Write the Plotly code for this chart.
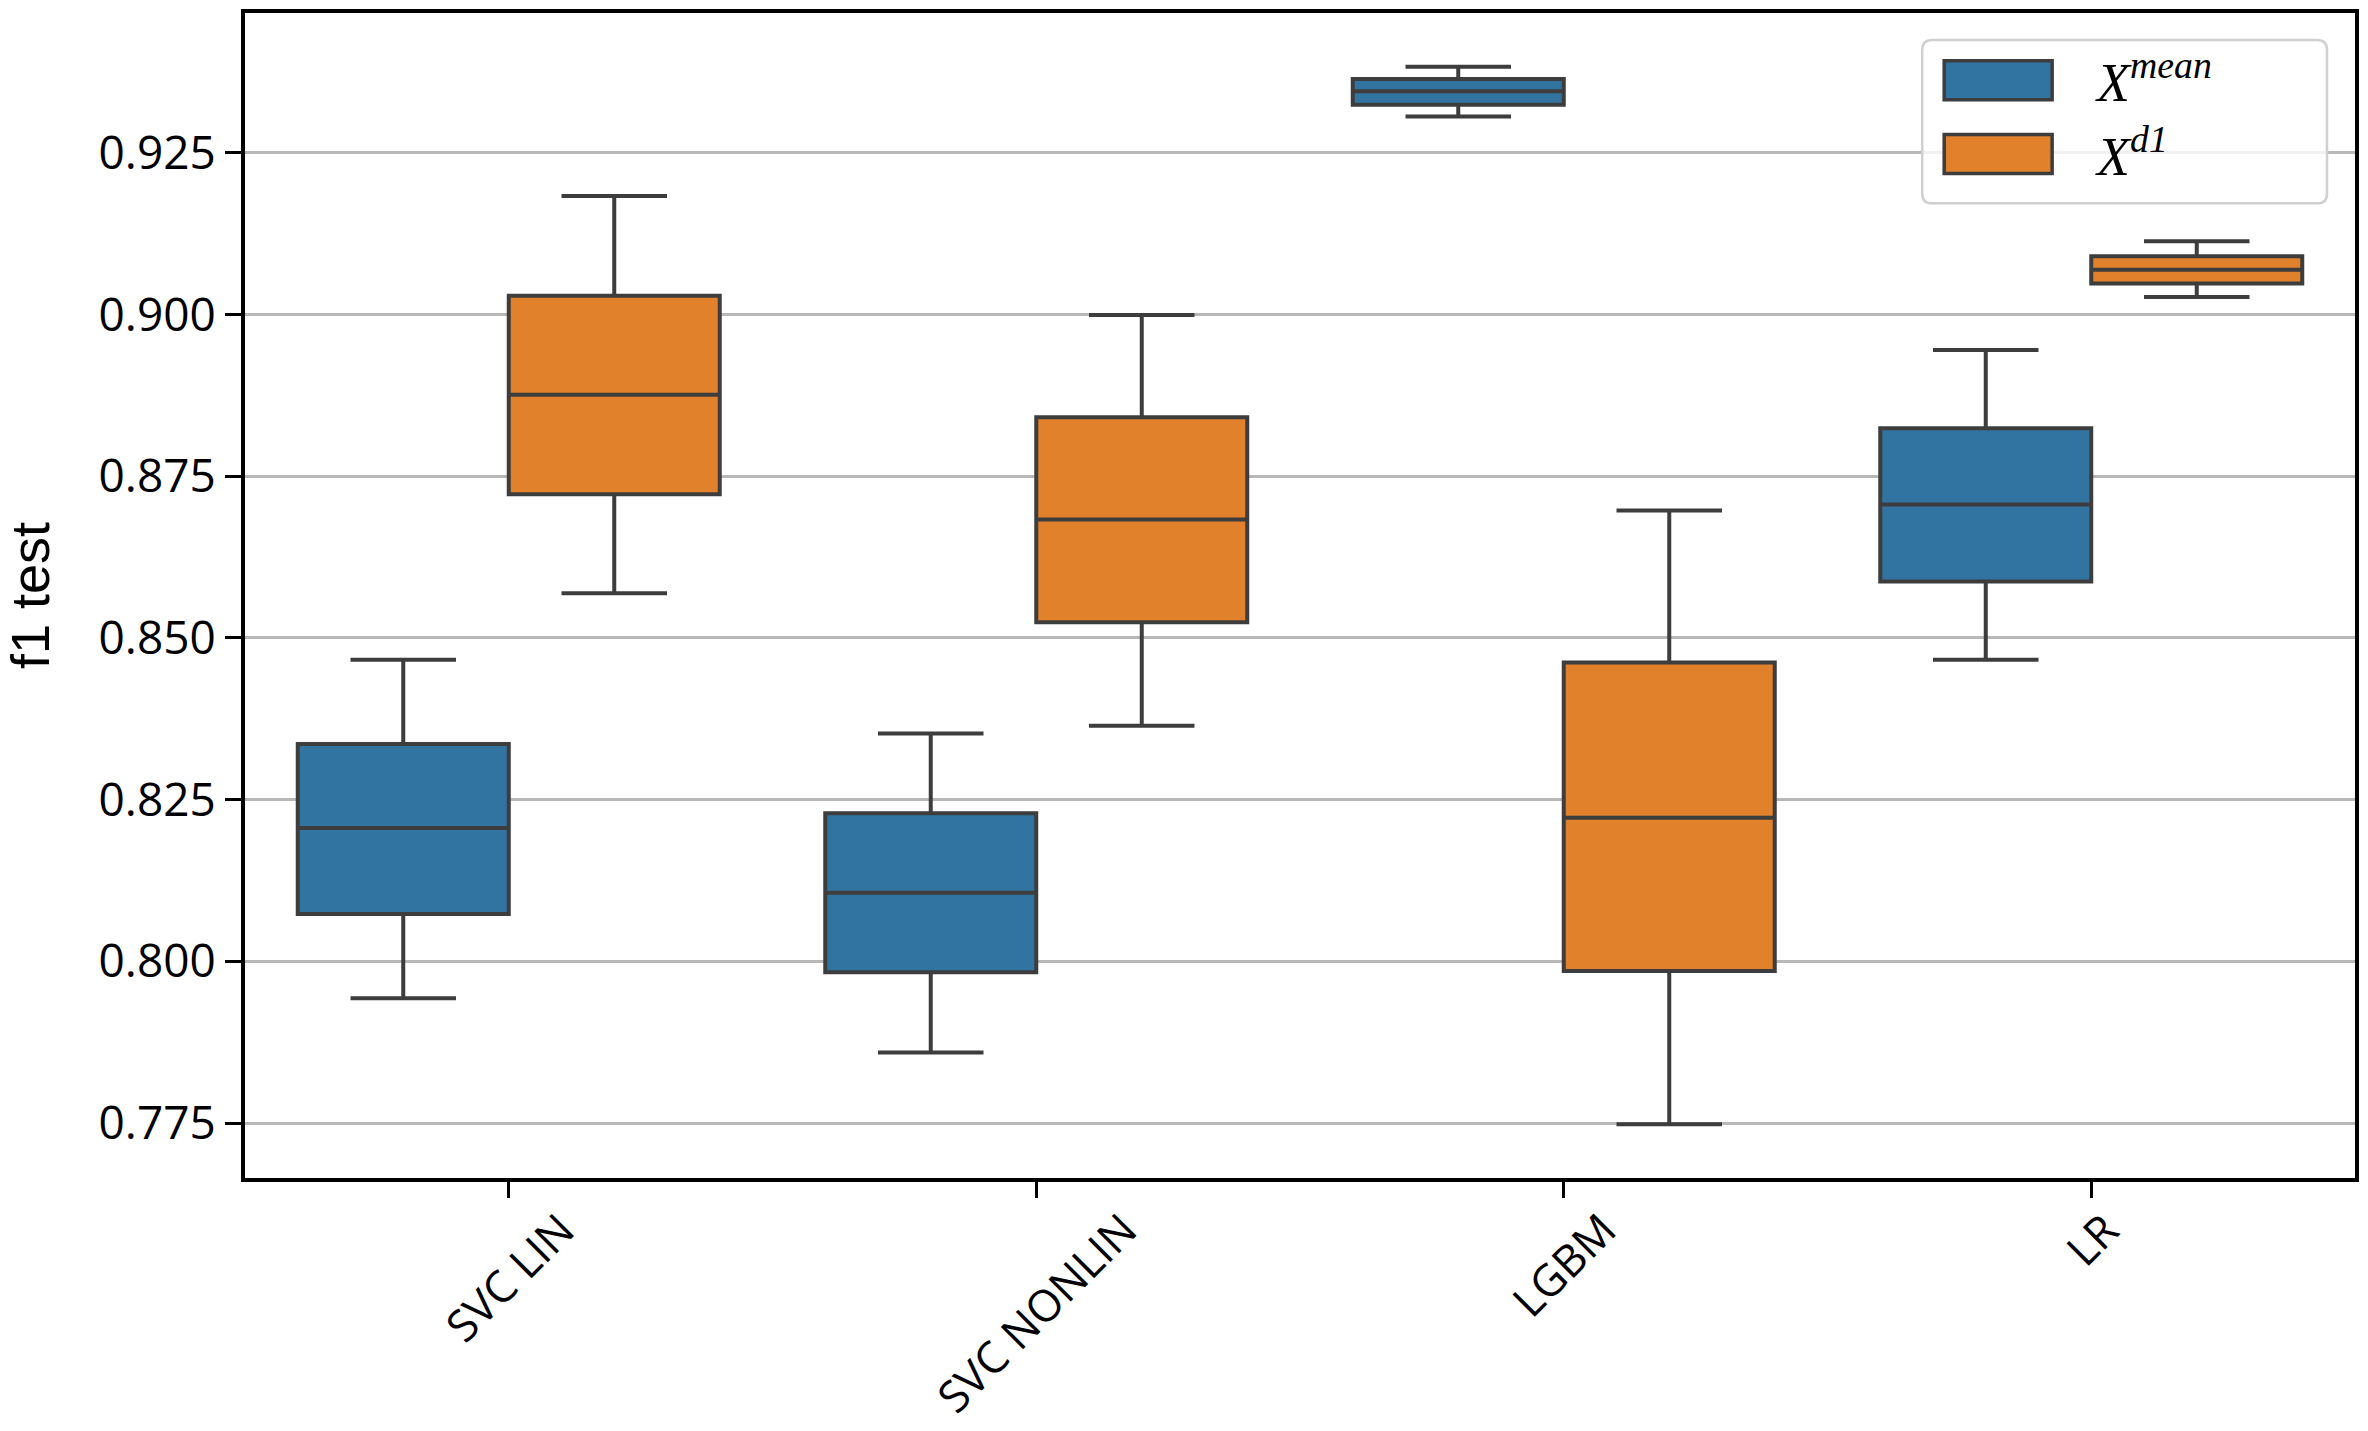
import plotly.graph_objects as go

categories = ["SVC LIN", "SVC NONLIN", "LGBM", "LR"]

# X^mean series (blue)
mean_lower = [0.7943, 0.7859, 0.9306, 0.8466]
mean_q1 = [0.8073, 0.7983, 0.9324, 0.8587]
mean_median = [0.8206, 0.8106, 0.9345, 0.8706]
mean_q3 = [0.8336, 0.8229, 0.9364, 0.8824]
mean_upper = [0.8466, 0.8352, 0.9383, 0.8945]

# X^d1 series (orange)
d1_lower = [0.8569, 0.8364, 0.7748, 0.9027]
d1_q1 = [0.8722, 0.8524, 0.7985, 0.9048]
d1_median = [0.8876, 0.8683, 0.8222, 0.9069]
d1_q3 = [0.9029, 0.8841, 0.8462, 0.9090]
d1_upper = [0.9183, 0.8999, 0.8697, 0.9113]

y_ticks = [0.775, 0.800, 0.825, 0.850, 0.875, 0.900, 0.925]
y_tick_labels = ["0.775", "0.800", "0.825", "0.850", "0.875", "0.900", "0.925"]
legend_labels = ["<i>X</i><sup><i>mean</i></sup>", "<i>X</i><sup><i>d1</i></sup>"]

BLUE = "#3274a1"
ORANGE = "#e1812c"
EDGE = "#3d3d3d"

W, H = 2368, 1431
L, R, T, B = 245, 12, 9, 253
PW = W - L - R
PH = H - T - B


def px_x(p):
    return (p - L) / PW


def px_y(p):
    return (H - B - p) / PH


fig = go.Figure()
fig.add_trace(go.Box(
    x=categories, q1=mean_q1, median=mean_median, q3=mean_q3,
    lowerfence=mean_lower, upperfence=mean_upper,
    name="X mean", fillcolor=BLUE, line=dict(color=EDGE, width=4),
    whiskerwidth=0.5, boxpoints=False, showlegend=False,
))
fig.add_trace(go.Box(
    x=categories, q1=d1_q1, median=d1_median, q3=d1_q3,
    lowerfence=d1_lower, upperfence=d1_upper,
    name="X d1", fillcolor=ORANGE, line=dict(color=EDGE, width=4),
    whiskerwidth=0.5, boxpoints=False, showlegend=False,
))

shapes = []
annotations = []

# x category labels (rotated, centred under ticks like matplotlib)
for c in categories:
    annotations.append(dict(
        x=c, xref="x", y=px_y(1197), yref="paper",
        text=c, textangle=-45, showarrow=False,
        xanchor="center", yanchor="top",
        font=dict(family="Open Sans", size=44, color="#000000"),
    ))

# legend frame (rounded)
x0, x1 = px_x(1923), px_x(2328)
y0, y1 = px_y(200), px_y(36)
rx, ry = 10 / PW, 10 / PH
path = (f"M {x0+rx},{y0} L {x1-rx},{y0} Q {x1},{y0} {x1},{y0+ry} "
        f"L {x1},{y1-ry} Q {x1},{y1} {x1-rx},{y1} L {x0+rx},{y1} "
        f"Q {x0},{y1} {x0},{y1-ry} L {x0},{y0+ry} Q {x0},{y0} {x0+rx},{y0} Z")
shapes.append(dict(type="path", path=path, xref="paper", yref="paper",
                   fillcolor="rgba(255,255,255,0.8)",
                   line=dict(color="#d0d0d0", width=2.5), layer="above"))

swatches = [(57, 96, BLUE), (131, 170, ORANGE)]
for (sy0, sy1, col), lab in zip(swatches, legend_labels):
    shapes.append(dict(type="rect", xref="paper", yref="paper",
                       x0=px_x(1945), x1=px_x(2053), y0=px_y(sy1), y1=px_y(sy0),
                       fillcolor=col, line=dict(color=EDGE, width=3.5),
                       layer="above"))
    annotations.append(dict(
        x=px_x(2094), xref="paper", y=px_y((sy0 + sy1) / 2 - 2), yref="paper",
        text=lab, showarrow=False, xanchor="left", yanchor="middle",
        font=dict(family="Liberation Serif", size=54, color="#000000"),
    ))

fig.update_layout(
    width=W, height=H,
    margin=dict(l=L, r=R, t=T, b=B, pad=0),
    paper_bgcolor="white", plot_bgcolor="white",
    boxmode="group", boxgap=0.2, boxgroupgap=0.0,
    shapes=shapes, annotations=annotations,
    font=dict(family="Open Sans", size=46, color="#000000"),
)
fig.update_xaxes(
    type="category", range=[-0.5, 3.5], showgrid=False, zeroline=False,
    showline=True, linecolor="#000000", linewidth=4, mirror=True,
    ticks="outside", ticklen=16, tickwidth=3, tickcolor="#000000",
    showticklabels=False,
)
fig.update_yaxes(
    range=[0.7665, 0.9466], tickvals=y_ticks, ticktext=y_tick_labels,
    showgrid=True, gridcolor="#b8b8b8", gridwidth=2.5, zeroline=False,
    showline=True, linecolor="#000000", linewidth=4, mirror=True,
    ticks="outside", ticklen=16, tickwidth=3, tickcolor="#000000",
    tickfont=dict(family="Open Sans", size=46, color="#000000"),
    title=dict(text="f1 test", standoff=40,
               font=dict(family="Liberation Sans", size=54, color="#000000")),
)

fig.write_html("out.html", config={"displayModeBar": False},
               post_script="document.body.style.margin='0';")
